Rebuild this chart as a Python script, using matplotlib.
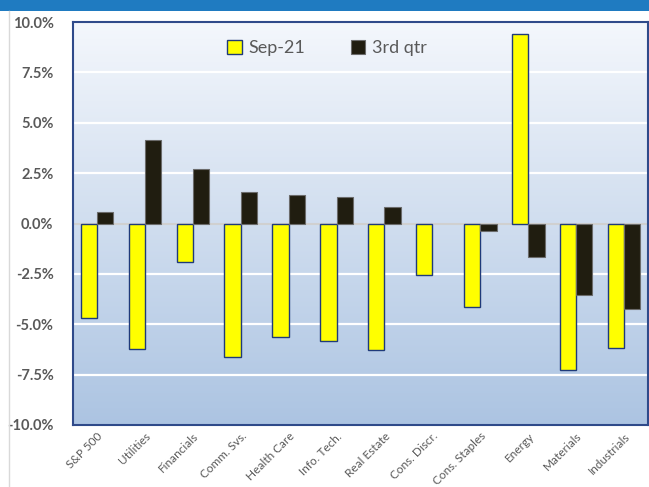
import numpy as np
import matplotlib
matplotlib.use("Agg")
import matplotlib.pyplot as plt
from matplotlib.patches import Rectangle
from matplotlib.ticker import FuncFormatter, MultipleLocator

sectors = ["S&P 500", "Utilities", "Financials", "Comm. Svs.", "Health Care",
           "Info. Tech.", "Real Estate", "Cons. Discr.", "Cons. Staples",
           "Energy", "Materials", "Industrials"]
sep21 = [-4.70, -6.25, -1.89, -6.64, -5.61, -5.85, -6.26, -2.58, -4.16, 9.42, -7.25, -6.18]
q3 = [0.55, 4.15, 2.68, 1.57, 1.41, 1.31, 0.84, 0.0, -0.35, -1.67, -3.53, -4.26]

plt.rcParams['font.family'] = ['Lato', 'DejaVu Sans']
grey = '#595959'

fig = plt.figure(figsize=(6.49, 4.87), dpi=100)
fig.patch.set_facecolor('white')

# blue band on top and thin grey line on the left
fig.add_artist(Rectangle((0, 1 - 11 / 487), 1, 11 / 487, transform=fig.transFigure,
                         facecolor='#1f7bc1', edgecolor='none'))
fig.add_artist(plt.Line2D([9 / 649, 9 / 649], [0, 1 - 11 / 487], transform=fig.transFigure,
                          color='#d9d9d9', lw=1))

ax = fig.add_axes([73 / 649, 62 / 487, 575 / 649, 403 / 487])

# gradient background
grad = np.linspace(0, 1, 256).reshape(-1, 1)
top = np.array([244, 247, 252]) / 255
bot = np.array([172, 196, 226]) / 255
img = top * (1 - grad[..., None]) + bot * grad[..., None]
ax.imshow(img, extent=(-0.5, len(sectors) - 0.5, -10, 10), aspect='auto',
          origin='upper', zorder=0)

x = np.arange(len(sectors))
w = 0.34
ax.bar(x - w / 2, sep21, w, color='#ffff00', edgecolor='#1f3a7a', lw=1,
       label='Sep-21', zorder=3)
q3_lw = [0.8 if v != 0 else 0 for v in q3]
ax.bar(x + w / 2, q3, w, color='#201d10', edgecolor='#6b6b6b', lw=q3_lw,
       label='3rd qtr', zorder=3)

for v in np.arange(-7.5, 10, 2.5):
    if v != 0:
        ax.axhline(v, color='white', lw=1.6, zorder=1)
ax.axhline(0, color='#d0d0d0', lw=1.5, zorder=2)

ax.set_xlim(-0.5, len(sectors) - 0.5)
ax.set_ylim(-10, 10)
ax.yaxis.set_major_locator(MultipleLocator(2.5))
ax.yaxis.set_major_formatter(FuncFormatter(lambda v, p: f"{v:.1f}%"))
ax.tick_params(axis='y', length=0, pad=14, labelsize=10.5, labelcolor=grey)
ax.tick_params(axis='x', length=0, pad=4, labelsize=8.5, labelcolor=grey)
ax.set_xticks(x)
ax.set_xticklabels(sectors, rotation=45, ha='right', rotation_mode='anchor')
for lab in ax.get_yticklabels():
    lab.set_fontweight('bold')

for s in ax.spines.values():
    s.set_color('#2f4a8a')
    s.set_linewidth(1.5)

leg = ax.legend(loc='center', bbox_to_anchor=(0.442, 0.935), ncol=2, frameon=False,
                fontsize=13, handlelength=0.8, handleheight=0.8, columnspacing=2.5,
                handletextpad=0.4)
for t in leg.get_texts():
    t.set_color(grey)

fig.savefig('out.png', dpi=100)
